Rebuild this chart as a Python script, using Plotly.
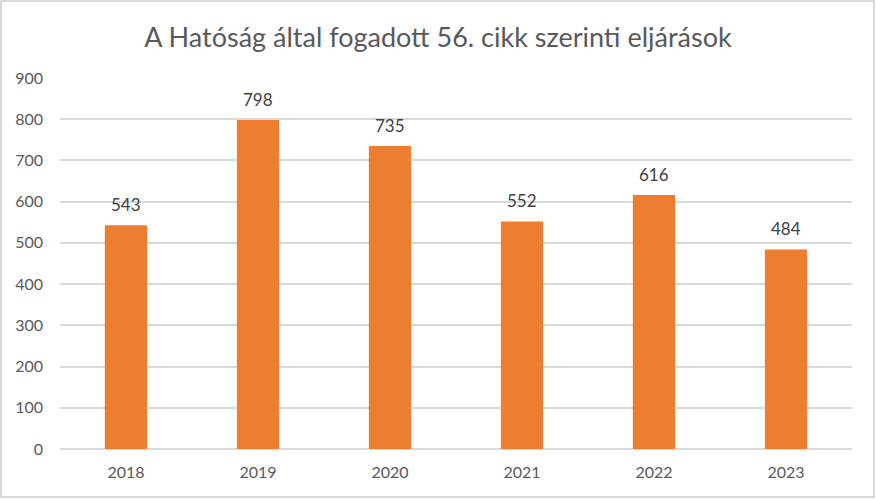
import plotly.graph_objects as go

years = ["2018", "2019", "2020", "2021", "2022", "2023"]
values = [543, 798, 735, 552, 616, 484]
title_text = "A Hatóság által fogadott 56. cikk szerinti eljárások"

W, H = 876, 499
ML, MR, MT, MB = 60, 24, 78, 50
FONT = "Lato, Carlito, Calibri, sans-serif"

fig = go.Figure()
fig.add_trace(go.Bar(
    x=years, y=values, width=0.32,
    marker=dict(color="#ED7D31", line=dict(width=0)),
    hoverinfo="skip",
))

# category axis: annotation positions given as category serial numbers
for i, v in enumerate(values):
    fig.add_annotation(x=i, y=v, text=str(v), showarrow=False,
                       yshift=21, font=dict(family=FONT, size=17, color="#404040"))

pw = W - ML - MR
ph = H - MT - MB
fig.add_shape(type="rect", xref="paper", yref="paper",
              x0=(1 - ML) / pw, x1=(W - 2 - ML) / pw,
              y0=-(MB - 2) / ph, y1=(ph + MT - 1) / ph,
              line=dict(color="#D9D9D9", width=2), layer="below")

fig.update_layout(
    width=W, height=H,
    margin=dict(l=ML, r=MR, t=MT, b=MB),
    paper_bgcolor="white", plot_bgcolor="white",
    showlegend=False,
    title=dict(text=title_text, x=0.5, xanchor="center", xref="container",
               y=1 - 38 / H, yanchor="middle",
               font=dict(family=FONT, size=27, color="#595959")),
    font=dict(family=FONT, color="#595959"),
    xaxis=dict(type="category", range=[-0.5, len(years) - 0.5],
               showgrid=False, showline=False, zeroline=False, ticks="",
               tickfont=dict(family=FONT, size=16, color="#595959"),
               ticklabelstandoff=12, fixedrange=True),
    yaxis=dict(range=[0, 900], tickvals=list(range(0, 901, 100)),
               showgrid=True, gridcolor="#D9D9D9", gridwidth=1.5,
               zeroline=True, zerolinecolor="#D9D9D9", zerolinewidth=1.5,
               showline=False, ticks="",
               tickfont=dict(family=FONT, size=16, color="#595959"),
               ticklabelstandoff=16, fixedrange=True),
)

fig.write_html("out.html")
